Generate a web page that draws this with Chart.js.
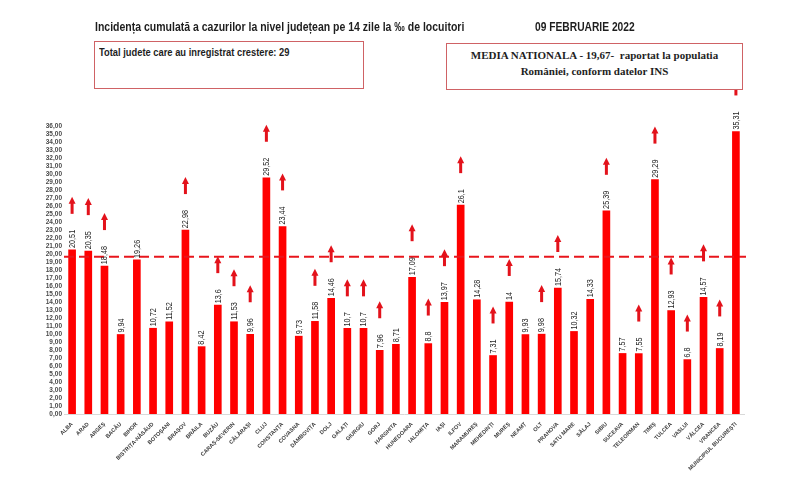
<!DOCTYPE html>
<html>
<head>
<meta charset="utf-8">
<script src="https://cdn.jsdelivr.net/npm/chart.js@4.4.1/dist/chart.umd.min.js"></script>
<style>
  body { margin: 0; background: #fff; }
  #wrap { position: relative; width: 800px; height: 495px; overflow: hidden; }
  #c { position: absolute; left: 0; top: 0; }
  .t { position: absolute; white-space: nowrap; color: #1e1e1e; transform-origin: 0 0; }
  #title { left: 95px; top: 20px; font: bold 12.5px 'Liberation Sans', Arial, sans-serif; transform: scaleX(0.84); }
  #date { left: 535px; top: 20px; font: bold 12.5px 'Liberation Sans', Arial, sans-serif; transform: scaleX(0.82); }
  .box { position: absolute; background: #fff; border: 1.5px solid #cf6265; box-sizing: border-box; }
  #box1 { left: 94px; top: 41px; width: 270px; height: 48px; }
  #box1 span { position: absolute; left: 4px; top: 4px; font: bold 10.5px 'Liberation Sans', Arial, sans-serif;
               white-space: nowrap; color: #1e1e1e; transform: scaleX(0.89); transform-origin: 0 0; }
  #box2 { left: 446px; top: 43px; width: 297px; height: 47px; text-align: center;
          font: bold 11px 'Liberation Serif', 'Times New Roman', serif; line-height: 16px; padding-top: 3px; color: #1e1e1e; }
</style>
</head>
<body>
<div id="wrap">
  <canvas id="c" width="800" height="495"></canvas>
  <div class="t" id="title">Incidența cumulată a cazurilor la nivel județean pe 14 zile la ‰ de locuitori</div>
  <div class="t" id="date">09 FEBRUARIE 2022</div>
  <div class="box" id="box1"><span>Total judete care au inregistrat crestere: 29</span></div>
  <div class="box" id="box2">MEDIA NATIONALA - 19,67-&nbsp; raportat la populatia<br>României, conform datelor INS</div>
</div>
<script>
const judete = [
    "ALBA", "ARAD", "ARGEȘ", "BACĂU", "BIHOR", "BISTRIȚA-NĂSĂUD", "BOTOȘANI",
    "BRAȘOV", "BRĂILA", "BUZĂU", "CARAȘ-SEVERIN", "CĂLĂRAȘI", "CLUJ", "CONSTANȚA",
    "COVASNA", "DÂMBOVIȚA", "DOLJ", "GALAȚI", "GIURGIU", "GORJ", "HARGHITA",
    "HUNEDOARA", "IALOMIȚA", "IAȘI", "ILFOV", "MARAMUREȘ", "MEHEDINȚI", "MUREȘ",
    "NEAMȚ", "OLT", "PRAHOVA", "SATU MARE", "SĂLAJ", "SIBIU", "SUCEAVA",
    "TELEORMAN", "TIMIȘ", "TULCEA", "VASLUI", "VÂLCEA", "VRANCEA", "MUNICIPIUL BUCUREȘTI"
];
const incidenta = [
    20.51, 20.35, 18.48, 9.94, 19.26, 10.72, 11.52,
    22.98, 8.42, 13.6, 11.53, 9.96, 29.52, 23.44,
    9.73, 11.58, 14.46, 10.7, 10.7, 7.96, 8.71,
    17.09, 8.8, 13.97, 26.1, 14.28, 7.31, 14,
    9.93, 9.98, 15.74, 10.32, 14.33, 25.39, 7.57,
    7.55, 29.29, 12.93, 6.8, 14.57, 8.19, 35.31
];
// 1 = judet cu crestere (sageata rosie)
const crestere = [
    1, 1, 1, 0, 0, 0, 0,
    1, 0, 1, 1, 1, 1, 1,
    0, 1, 1, 1, 1, 1, 0,
    1, 1, 1, 1, 0, 1, 1,
    0, 1, 1, 0, 0, 1, 0,
    1, 1, 1, 1, 1, 1, 1
];
const mediaNationala = 19.67;
const yMin = 0, yMax = 36, yStep = 1;

const SANS = "'Liberation Sans', Arial, sans-serif";
const fmt = v => String(v).replace('.', ',');

// dashed national average line
const mediaLine = {
    id: 'mediaLine',
    afterDatasetsDraw(chart) {
        const { ctx, chartArea, scales } = chart;
        const y = scales.y.getPixelForValue(mediaNationala);
        ctx.save();
        ctx.strokeStyle = '#e8161c';
        ctx.lineWidth = 2;
        ctx.setLineDash([10, 5]);
        ctx.beginPath();
        ctx.moveTo(chartArea.left, y);
        ctx.lineTo(chartArea.right + 2, y);
        ctx.stroke();
        ctx.restore();
    }
};

// vertical value labels + up arrows
const barLabels = {
    id: 'barLabels',
    afterDatasetsDraw(chart) {
        const { ctx } = chart;
        const meta = chart.getDatasetMeta(0);
        const squeeze = 0.85;
        ctx.save();
        ctx.font = '8.5px ' + SANS;
        meta.data.forEach((bar, i) => {
            const txt = fmt(incidenta[i]);
            const w = ctx.measureText(txt).width * squeeze;
            ctx.save();
            ctx.translate(bar.x + 0.5, bar.y - 2);
            ctx.rotate(-Math.PI / 2);
            ctx.scale(squeeze, 1);
            ctx.fillStyle = '#262626';
            ctx.textAlign = 'left';
            ctx.textBaseline = 'middle';
            ctx.fillText(txt, 0, 0);
            ctx.restore();

            if (crestere[i]) {
                const bottom = bar.y - 2 - w - 16;
                ctx.fillStyle = '#e3121b';
                ctx.fillRect(bar.x - 1.5, bottom - 11, 3, 11);
                ctx.beginPath();
                ctx.moveTo(bar.x - 3.5, bottom - 10);
                ctx.lineTo(bar.x + 3.5, bottom - 10);
                ctx.lineTo(bar.x, bottom - 17);
                ctx.closePath();
                ctx.fill();
            }
        });
        ctx.restore();
    }
};

new Chart(document.getElementById('c'), {
    type: 'bar',
    data: {
        labels: judete,
        datasets: [{
            data: incidenta,
            backgroundColor: '#ff0000',
            borderWidth: 0,
            barThickness: 7
        }]
    },
    options: {
        responsive: false,
        animation: false,
        layout: { padding: { left: 24, right: 56, top: 126, bottom: 0 } },
        plugins: {
            legend: { display: false },
            tooltip: { enabled: false }
        },
        scales: {
            x: {
                grid: { display: false, drawTicks: false },
                border: { display: true, color: '#d9d9d9', width: 1 },
                ticks: {
                    autoSkip: false,
                    maxRotation: 45,
                    minRotation: 45,
                    padding: 7,
                    color: '#3a3a3a',
                    font: { family: SANS, size: 5.5, weight: 'bold' }
                },
                afterFit(scale) { scale.height = 81; }
            },
            y: {
                min: yMin,
                max: yMax,
                grid: { display: false, drawTicks: false },
                border: { display: false },
                ticks: {
                    stepSize: yStep,
                    autoSkip: false,
                    padding: 2,
                    color: '#4a4a4a',
                    font: { family: SANS, size: 6.5, weight: 'bold' },
                    callback: v => v.toFixed(2).replace('.', ',')
                },
                afterFit(scale) { scale.width = 40; }
            }
        }
    },
    plugins: [mediaLine, barLabels]
});
</script>
</body>
</html>
